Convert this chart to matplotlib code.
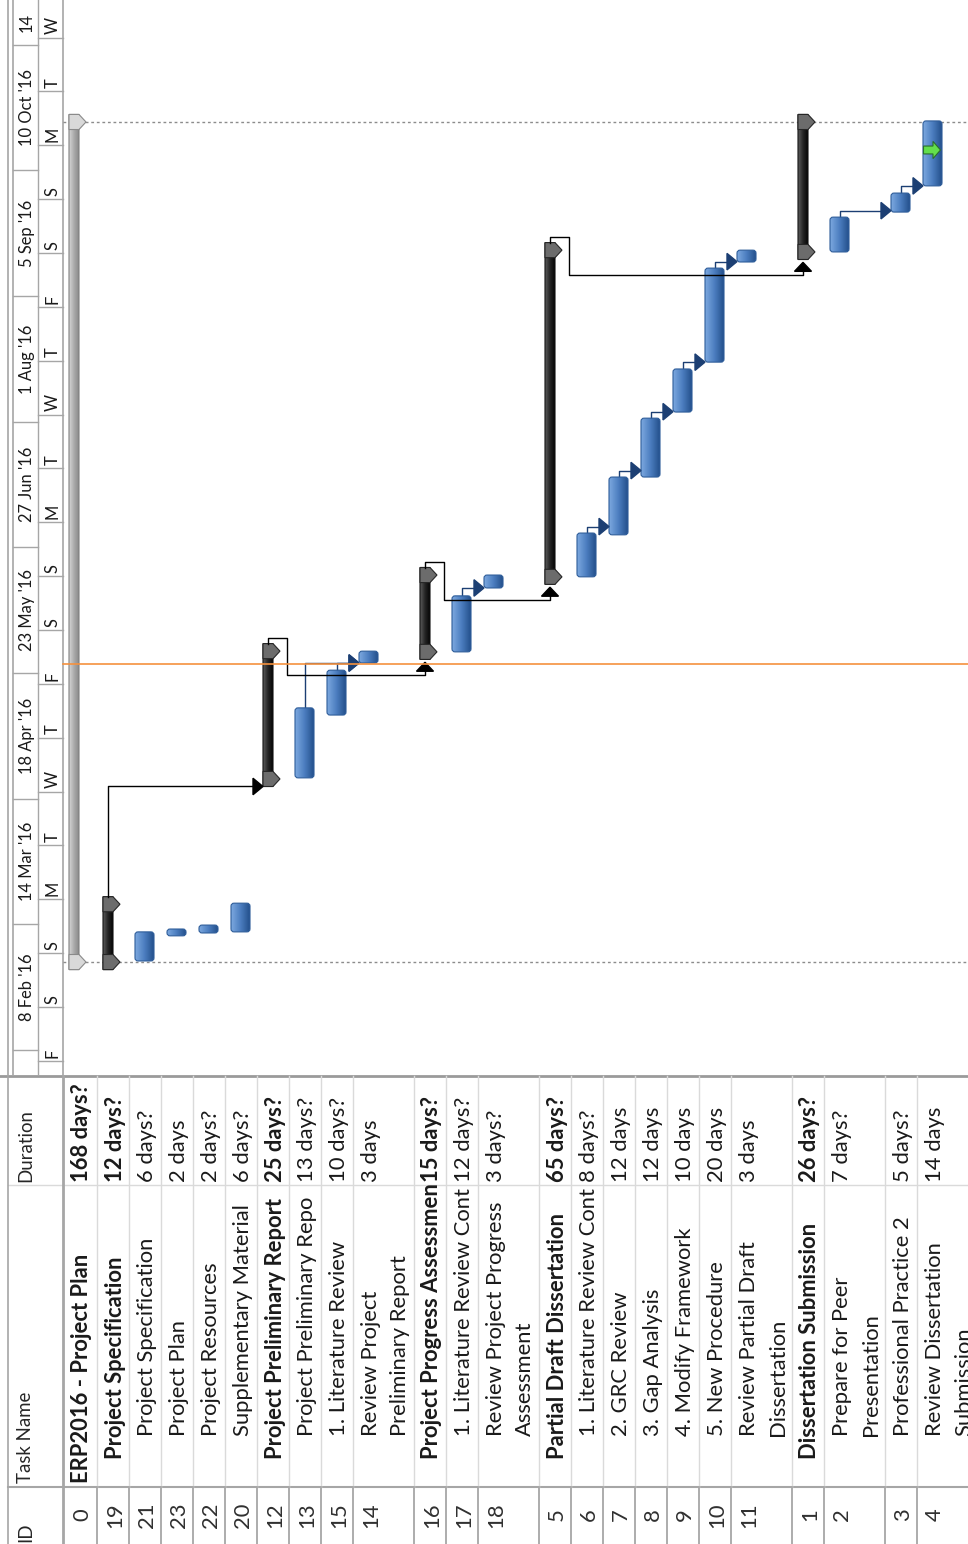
import matplotlib
matplotlib.use("Agg")
import matplotlib.pyplot as plt
import numpy as np
from matplotlib.colors import LinearSegmentedColormap
from matplotlib.patches import FancyBboxPatch, Polygon, Rectangle

plt.rcParams["font.family"] = ["Lato", "DejaVu Sans"]

# ---------------- data ----------------
task_ids = [0, 19, 21, 23, 22, 20, 12, 13, 15, 14, 16, 17, 18, 5, 6, 7, 8, 9, 10, 11, 1, 2, 3, 4]
task_names = [
    ["ERP2016 - Project Plan"],
    ["Project Specification"],
    ["Project Specification"],
    ["Project Plan"],
    ["Project Resources"],
    ["Supplementary Material"],
    ["Project Preliminary Report"],
    ["Project Preliminary Repo"],
    ["1. Literature Review"],
    ["Review Project", "Preliminary Report"],
    ["Project Progress Assessmen"],
    ["1. Literature Review Cont"],
    ["Review Project Progress", "Assessment"],
    ["Partial Draft Dissertation"],
    ["1. Literature Review Cont"],
    ["2. GRC Review"],
    ["3. Gap Analysis"],
    ["4. Modify Framework"],
    ["5. New Procedure"],
    ["Review Partial Draft", "Dissertation"],
    ["Dissertation Submission"],
    ["Prepare for Peer", "Presentation"],
    ["Professional Practice 2"],
    ["Review Dissertation", "Submission"],
]
durations = ["168 days?", "12 days?", "6 days?", "2 days", "2 days?", "6 days?",
             "25 days?", "13 days?", "10 days?", "3 days", "15 days?", "12 days?",
             "3 days?", "65 days?", "8 days?", "12 days", "12 days", "10 days",
             "20 days", "3 days", "26 days?", "7 days?", "5 days?", "14 days"]
outline_level = [0, 1, 2, 2, 2, 2, 1, 2, 2, 2, 1, 2, 2, 1, 2, 2, 2, 2, 2, 2, 1, 2, 2, 2]

# dates in days after Mon 8 Feb 2016
start_day = [24.5, 24.5, 24.8, 31.8, 32.6, 32.9, 75.5, 75.8, 93.3, 107.8, 110.9, 110.9,
             128.7, 131.8, 131.8, 143.5, 159.6, 177.7, 191.6, 219.5, 222.3, 222.3, 233.4, 240.7]
finish_day = [258.5, 40.6, 32.9, 33.7, 34.8, 40.9, 111.1, 95.3, 105.8, 111.1, 132.3, 126.5,
              132.3, 222.8, 144.0, 159.6, 176.0, 189.7, 217.8, 222.8, 258.5, 232.0, 238.7, 258.8]

task_links = [(13, 14), (15, 14), (17, 18), (6, 7), (7, 8), (8, 9), (9, 10), (10, 11), (2, 3), (3, 4)]
summary_links = [(19, 12), (12, 16), (16, 5), (5, 1)]

status_day = 107.5
indicator_task, indicator_day = 4, 250.7

# timescale
major_starts = [-35, 0, 35, 70, 105, 140, 175, 210, 245, 280]
major_labels = ["", "8 Feb '16", "14 Mar '16", "18 Apr '16", "23 May '16", "27 Jun '16",
                "1 Aug '16", "5 Sep '16", "10 Oct '16", "14"]
minor_starts = [-3, 12, 27, 42, 57, 72, 87, 102, 117, 132, 147, 162, 177, 192, 207, 222, 237, 252, 267, 282]
minor_letters = ["F", "S", "S", "M", "T", "W", "T", "F", "S", "S",
                 "M", "T", "W", "T", "F", "S", "S", "M", "T", "W"]

# ---------------- layout ----------------
FIG_W, FIG_H = 968, 1544
GANTT_H = 1075
PX_PER_DAY = 3.59
DAY0_Y = 1050
CAP = 2.1

TEXT = "#1a1a1a"
GRID = "#a6a6a6"
LIGHT = "#dadada"
NAVY = "#1c3f73"

line_count = [len(n) for n in task_names]
row_width = [32 + 29 * (n - 1) for n in line_count]
row_width[0] = 34
row_start = 63 + np.concatenate([[0], np.cumsum(row_width)[:-1]])
pos = {tid: i for i, tid in enumerate(task_ids)}
is_summary = [lvl < 2 for lvl in outline_level]

fig = plt.figure(figsize=(FIG_W / 100, FIG_H / 100), dpi=100)
renderer = fig.canvas.get_renderer()


def fit_size(text, width_px, weight="normal"):
    t = fig.text(0, 0, text, fontsize=10, fontweight=weight)
    w = t.get_window_extent(renderer=renderer).width
    t.remove()
    return 10 * width_px / w


name_fs = fit_size("Supplementary Material", 232)
head_fs = fit_size("14 Mar '16", 80)
col_fs = fit_size("Task Name", 91)


def bar_span(i):
    rs = row_start[i]
    if is_summary[i]:
        return rs + 6, rs + 16
    return rs + 6, rs + 25


def gradient_bar(ax, x0, x1, d0, d1, colors, edge, rounding, z):
    box = FancyBboxPatch((x0, d0), x1 - x0, d1 - d0,
                         boxstyle=f"round,pad=0,rounding_size={rounding}",
                         mutation_aspect=1 / PX_PER_DAY,
                         facecolor="none", edgecolor=edge, linewidth=0.8, zorder=z + 0.1)
    ax.add_patch(box)
    cmap = LinearSegmentedColormap.from_list("bar", colors)
    img = ax.imshow(np.linspace(0, 1, 48).reshape(1, -1), cmap=cmap,
                    extent=(x0, x1, d0, d1), aspect="auto",
                    interpolation="bilinear", zorder=z)
    img.set_clip_path(box)


# ---------------- gantt part ----------------
axg = fig.add_axes([0, 1 - GANTT_H / FIG_H, 1, GANTT_H / FIG_H])
ymin, ymax = (DAY0_Y - GANTT_H) / PX_PER_DAY, DAY0_Y / PX_PER_DAY
axg.set_xlim(0, FIG_W)
axg.set_ylim(ymin, ymax)
axg.set_autoscale_on(False)
axg.axis("off")

# timescale
for x in (8, 12.5, 38, 63):
    axg.axvline(x, color=GRID, lw=1.2 if x != 38 else 1.0, zorder=1)
for d in major_starts:
    axg.plot([12.5, 38], [d, d], color=GRID, lw=1.0, zorder=1)
for d in minor_starts:
    axg.plot([38, 63], [d, d], color=GRID, lw=1.0, zorder=1)
for d, lab in zip(major_starts, major_labels):
    if not lab:
        continue
    mid = (d + min(d + 35, ymax)) / 2
    axg.text(25.5, mid, lab, rotation=90, rotation_mode="anchor", ha="center",
             va="center_baseline", fontsize=head_fs, color=TEXT)
for d, lab in zip(minor_starts, minor_letters):
    axg.text(51, d + 0.9, lab, rotation=90, rotation_mode="anchor", ha="left",
             va="center_baseline", fontsize=head_fs, color=TEXT)

# project start / finish and status date
for d in (start_day[0], finish_day[0]):
    axg.plot([63, FIG_W], [d, d], color="#8c8c8c", lw=1.0, ls=(0, (2, 2)), zorder=1)
axg.plot([63, FIG_W], [status_day, status_day], color="#f5913e", lw=1.2, zorder=5)

# bars
for i in range(len(task_ids)):
    x0, x1 = bar_span(i)
    s, f = start_day[i], finish_day[i]
    if i == 0:
        body = ["#d6d6d6", "#ababab", "#8a8a8a"]
        cap_fc, cap_ec, edge = "#d9d9d9", "#8a8a8a", "#808080"
    elif is_summary[i]:
        body = ["#5c5c5c", "#262626", "#050505"]
        cap_fc, cap_ec, edge = "#6c6c6c", "#262626", "#111111"
    else:
        gradient_bar(axg, x0, x1, s, f, ["#7ca8df", "#4c7ec0", "#24508c"], "#2e5d9a", 3, 3)
        continue
    gradient_bar(axg, x0, x1, s - CAP, f + CAP, body, edge, 0.5, 3)
    for d in (s, f):
        cap = Polygon([(x0, d - CAP), (x1, d - CAP), (x1 + 7, d), (x1, d + CAP), (x0, d + CAP)],
                      closed=True, facecolor=cap_fc, edgecolor=cap_ec, lw=0.8, zorder=3.5)
        axg.add_patch(cap)

# task links
for p, s in task_links:
    ip, js = pos[p], pos[s]
    px0, px1 = bar_span(ip)
    cx = (px0 + px1) / 2
    tip = bar_span(js)[0]
    turn = max(start_day[js], finish_day[ip] + 1.8)
    axg.plot([cx, cx, tip - 9], [finish_day[ip], turn, turn], color=NAVY, lw=1.0, zorder=2.5,
             solid_joinstyle="round")
    axg.add_patch(Polygon([(tip - 10, turn - 2.3), (tip, turn), (tip - 10, turn + 2.3)],
                          closed=True, color=NAVY, zorder=4))

# summary links
for p, s in summary_links:
    ip, js = pos[p], pos[s]
    px0, px1 = bar_span(ip)
    sx0, sx1 = bar_span(js)
    cx = (px0 + px1) / 2
    if start_day[js] > finish_day[ip]:
        turn = start_day[js] - CAP
        axg.plot([cx, cx, sx0 - 9], [finish_day[ip] + CAP, turn, turn], color="black",
                 lw=1.0, zorder=3.6)
        axg.add_patch(Polygon([(sx0 - 10, turn - 2.3), (sx0, turn), (sx0 - 10, turn + 2.3)],
                              closed=True, color="black", zorder=4))
    else:
        top = finish_day[ip] + CAP + 1.6
        out = px1 + 14
        tip = start_day[js] - CAP - 0.8
        low = tip - 3.6
        scx = (sx0 + sx1) / 2
        axg.plot([cx, cx, out, out, scx, scx],
                 [finish_day[ip] + CAP, top, top, low, low, tip - 2.4],
                 color="black", lw=1.0, zorder=3.6)
        axg.add_patch(Polygon([(scx - 8.5, tip - 2.5), (scx, tip), (scx + 8.5, tip - 2.5)],
                              closed=True, color="black", zorder=4))

# indicator arrow
ii = pos[indicator_task]
bc = sum(bar_span(ii)) / 2
d = indicator_day
axg.add_patch(Polygon([(bc - 9, d - 1.1), (bc + 0.5, d - 1.1), (bc + 0.5, d - 2.4), (bc + 8, d),
                       (bc + 0.5, d + 2.4), (bc + 0.5, d + 1.1), (bc - 9, d + 1.1)],
                      closed=True, facecolor="#63df4c", edgecolor="#2b6e2b", lw=0.8, zorder=6))

# ---------------- table part ----------------
axt = fig.add_axes([0, 0, 1, (FIG_H - GANTT_H) / FIG_H])
axt.set_xlim(0, FIG_W)
axt.set_ylim(FIG_H, GANTT_H)
axt.set_autoscale_on(False)
axt.axis("off")

COL_DUR, COL_NAME, COL_ID = 1185, 1487, FIG_H

axt.plot([0, FIG_W], [GANTT_H + 1, GANTT_H + 1], color="#9a9a9a", lw=2, clip_on=False)
axt.plot([8, FIG_W], [COL_DUR, COL_DUR], color=LIGHT, lw=1.0)
axt.plot([8, FIG_W], [COL_NAME, COL_NAME], color=GRID, lw=1.5)
axt.plot([8, 8], [GANTT_H, FIG_H], color=GRID, lw=1.2)
axt.plot([63, 63], [GANTT_H, FIG_H], color=GRID, lw=2.0)
for x in row_start[1:]:
    axt.plot([x, x], [GANTT_H + 1, COL_NAME], color=LIGHT, lw=1.0)
    axt.plot([x, x], [COL_NAME, FIG_H], color=GRID, lw=1.3)

# column headers
for y0, lab in ((1542, "ID"), (1483, "Task Name"), (1182, "Duration")):
    axt.text(24, y0, lab, rotation=90, rotation_mode="anchor", ha="left",
             va="center_baseline", fontsize=col_fs, color="#262626")

name_clip = Rectangle((0, COL_DUR), FIG_W, COL_NAME - COL_DUR, transform=axt.transData)
dur_clip = Rectangle((0, GANTT_H), FIG_W, COL_DUR - GANTT_H, transform=axt.transData)

for i, tid in enumerate(task_ids):
    rs = row_start[i]
    first = rs + (17 if i == 0 else 16)
    weight = "bold" if is_summary[i] else "normal"
    axt.text(first, 1515, str(tid), rotation=90, rotation_mode="anchor", ha="center",
             va="center_baseline", fontsize=name_fs, color="#303030")
    for k, line in enumerate(task_names[i]):
        t = axt.text(first + 29 * k, 1483 - 23.5 * outline_level[i], line, rotation=90,
                     rotation_mode="anchor", ha="left", va="center_baseline",
                     fontsize=name_fs, fontweight=weight, color=TEXT, clip_on=True)
        t.set_clip_path(name_clip)
    t = axt.text(first, 1182, durations[i], rotation=90, rotation_mode="anchor", ha="left",
                 va="center_baseline", fontsize=name_fs, fontweight=weight, color=TEXT,
                 clip_on=True)
    t.set_clip_path(dur_clip)

fig.savefig("out.png", dpi=100)
